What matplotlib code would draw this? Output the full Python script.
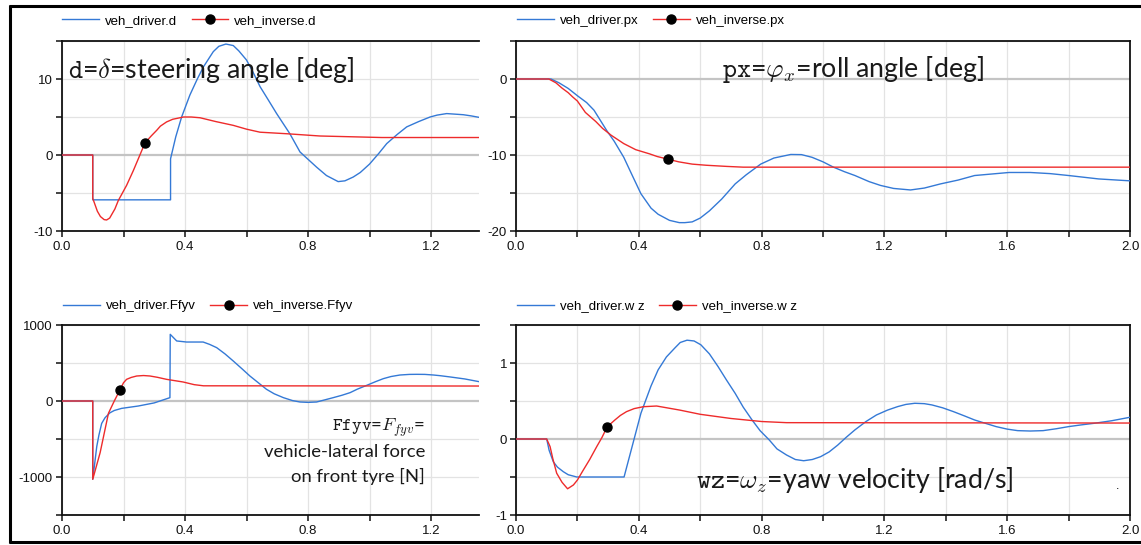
import matplotlib
matplotlib.use("Agg")
import matplotlib.pyplot as plt
from matplotlib.lines import Line2D

# ---------------- data ----------------
xticks_left = [0.0, 0.2, 0.4, 0.6, 0.8, 1.0, 1.2]
xticks_right = [0.0, 0.2, 0.4, 0.6, 0.8, 1.0, 1.2, 1.4, 1.6, 1.8, 2.0]

# steering angle d [deg]
t_d_drv = [0, 0.1, 0.1, 0.353, 0.353, 0.37, 0.389, 0.416, 0.44, 0.46, 0.492, 0.51, 0.533, 0.557,
           0.575, 0.6, 0.62, 0.644, 0.67, 0.698, 0.741, 0.774, 0.828, 0.86, 0.898, 0.92, 0.947,
           0.97, 1.0, 1.03, 1.056, 1.09, 1.121, 1.16, 1.197, 1.22, 1.251, 1.305, 1.33, 1.357]
d_drv = [0, 0, -5.9, -5.9, -0.5, 2.4, 5.0, 7.9, 10.0, 11.6, 13.6, 14.3, 14.6, 14.4,
         13.7, 12.5, 11.0, 9.0, 7.3, 5.45, 2.8, 0.4, -1.6, -2.7, -3.5, -3.4, -2.9,
         -2.3, -1.2, 0.2, 1.5, 2.7, 3.7, 4.4, 5.0, 5.25, 5.45, 5.3, 5.15, 4.95]
t_d_inv = [0, 0.1, 0.1, 0.115, 0.125, 0.137, 0.145, 0.155, 0.172, 0.183, 0.21, 0.232, 0.27,
           0.29, 0.308, 0.32, 0.34, 0.36, 0.395, 0.42, 0.449, 0.5, 0.557, 0.6, 0.644, 0.73,
           0.839, 1.04, 1.357]
d_inv = [0, 0, -5.7, -7.4, -8.1, -8.5, -8.55, -8.3, -7.1, -6.0, -4.0, -2.05, 1.6,
         2.5, 3.25, 3.8, 4.35, 4.7, 5.0, 5.0, 4.9, 4.4, 3.9, 3.4, 3.0, 2.8,
         2.5, 2.3, 2.3]
d_marker = 12

# roll angle px [deg]
t_px_drv = [0, 0.114, 0.14, 0.17, 0.2, 0.23, 0.254, 0.295, 0.32, 0.351, 0.38, 0.407, 0.44,
            0.463, 0.5, 0.532, 0.55, 0.574, 0.6, 0.63, 0.67, 0.714, 0.75, 0.797, 0.84, 0.895,
            0.93, 0.964, 1.0, 1.034, 1.07, 1.104, 1.15, 1.187, 1.23, 1.285, 1.33, 1.383, 1.44,
            1.494, 1.55, 1.606, 1.675, 1.74, 1.80, 1.898, 2.0]
px_drv = [0, 0, -0.5, -1.24, -2.2, -3.1, -4.1, -6.75, -8.2, -10.3, -12.8, -15.1, -17.0,
          -17.8, -18.6, -18.9, -18.9, -18.8, -18.3, -17.35, -15.8, -13.8, -12.6, -11.2, -10.4,
          -9.93, -9.95, -10.3, -10.9, -11.6, -12.2, -12.7, -13.5, -14.0, -14.4, -14.6, -14.35,
          -13.8, -13.3, -12.7, -12.5, -12.3, -12.3, -12.45, -12.7, -13.15, -13.4]
t_px_inv = [0, 0.107, 0.13, 0.15, 0.17, 0.184, 0.2, 0.226, 0.26, 0.282, 0.31, 0.351, 0.39,
            0.435, 0.46, 0.495, 0.53, 0.574, 0.62, 0.686, 0.74, 2.0]
px_inv = [0, 0, -0.5, -1.2, -1.8, -2.34, -2.9, -4.4, -5.6, -6.5, -7.4, -8.5, -9.3,
          -9.85, -10.2, -10.55, -10.9, -11.2, -11.35, -11.5, -11.6, -11.6]
px_marker = 15

# vehicle-lateral front tyre force Ffyv [N]
t_f_drv = [0, 0.1, 0.1, 0.107, 0.113, 0.12, 0.129, 0.14, 0.156, 0.17, 0.194, 0.248, 0.3, 0.351,
           0.352, 0.373, 0.405, 0.44, 0.459, 0.48, 0.503, 0.53, 0.557, 0.585, 0.611, 0.64,
           0.665, 0.69, 0.72, 0.75, 0.774, 0.8, 0.828, 0.85, 0.882, 0.91, 0.937, 0.96, 0.991,
           1.02, 1.045, 1.07, 1.099, 1.13, 1.154, 1.18, 1.208, 1.23, 1.263, 1.31, 1.357]
f_drv = [0, 0, -1030, -800, -600, -450, -295, -220, -155, -125, -97, -66, -25, 44,
         877, 790, 776, 776, 776, 745, 702, 620, 526, 425, 329, 235,
         154, 95, 44, 5, -13, -18, -13, 10, 44, 75, 110, 155, 206,
         255, 294, 322, 342, 350, 351, 350, 342, 333, 316, 290, 254]
t_f_inv = [0, 0.1, 0.1, 0.124, 0.151, 0.17, 0.189, 0.2, 0.21, 0.225, 0.243, 0.265, 0.286, 0.31,
           0.34, 0.394, 0.43, 0.46, 1.357]
f_inv = [0, 0, -1030, -680, -162, 0, 150, 240, 285, 310, 329, 335, 329, 312,
         285, 250, 215, 200, 197]
f_marker = 6

# yaw velocity wz [rad/s]
t_w_drv = [0, 0.1, 0.108, 0.1216, 0.135, 0.154, 0.17, 0.198, 0.352, 0.407, 0.44, 0.463, 0.49,
           0.518, 0.535, 0.557, 0.58, 0.602, 0.63, 0.658, 0.685, 0.714, 0.74, 0.769, 0.795,
           0.825, 0.85, 0.881, 0.91, 0.937, 0.965, 0.992, 1.02, 1.048, 1.075, 1.104, 1.14,
           1.174, 1.21, 1.243, 1.27, 1.299, 1.33, 1.355, 1.39, 1.425, 1.46, 1.494, 1.53, 1.564,
           1.6, 1.634, 1.675, 1.717, 1.76, 1.80, 1.84, 1.884, 1.94, 2.0]
w_drv = [0, 0, -0.15, -0.30, -0.37, -0.43, -0.47, -0.5, -0.5, 0.34, 0.70, 0.91, 1.08,
         1.2, 1.27, 1.30, 1.29, 1.24, 1.12, 0.954, 0.78, 0.60, 0.42, 0.25, 0.11,
         -0.013, -0.13, -0.21, -0.27, -0.286, -0.27, -0.233, -0.17, -0.08, 0.02, 0.12, 0.23,
         0.316, 0.38, 0.426, 0.455, 0.47, 0.465, 0.448, 0.41, 0.36, 0.305, 0.25, 0.205, 0.163,
         0.13, 0.11, 0.105, 0.11, 0.135, 0.163, 0.185, 0.207, 0.24, 0.286]
t_w_inv = [0, 0.1, 0.111, 0.12, 0.1325, 0.15, 0.168, 0.187, 0.2, 0.219, 0.24, 0.263, 0.28,
           0.297, 0.322, 0.34, 0.36, 0.385, 0.415, 0.458, 0.534, 0.6, 0.7, 0.8, 0.881, 2.0]
w_inv = [0, 0, -0.1, -0.26, -0.45, -0.57, -0.655, -0.605, -0.54, -0.41, -0.27, -0.1, 0.02,
         0.16, 0.25, 0.31, 0.36, 0.4, 0.425, 0.434, 0.38, 0.325, 0.27, 0.23, 0.215, 0.21]
w_marker = 13

# ---------------- style ----------------
W, H = 1141, 545
BLUE = "#3479d6"
RED = "#ee2b2b"
plt.rcParams["font.family"] = ["Liberation Sans", "DejaVu Sans"]

fig = plt.figure(figsize=(W / 100, H / 100), dpi=100)


def px_rect(l, r, t, b):
    return [l / W, 1 - b / H, (r - l) / W, (b - t) / H]


def style_axes(ax, xlim, xticks, xlab_every, ylim, ystep, ylab_every, right_spine=True):
    ax.set_xlim(*xlim)
    ax.set_ylim(*ylim)
    ax.set_xticks(xticks)
    ax.set_xticklabels([f"{v:.1f}" if i % xlab_every == 0 else "" for i, v in enumerate(xticks)])
    n = int(round((ylim[1] - ylim[0]) / ystep))
    yt = [ylim[0] + i * ystep for i in range(n + 1)]
    ax.set_yticks(yt)
    labs = []
    for v in yt:
        if abs(round(v / ylab_every) * ylab_every - v) < 1e-9:
            labs.append(f"{v:g}")
        else:
            labs.append("")
    ax.set_yticklabels(labs)
    for g in xticks:
        ax.axvline(g, color="#e3e3e3", lw=0.9, zorder=0)
    for g in yt:
        if abs(g) < 1e-9:
            ax.axhline(0, color="#c4c4c4", lw=1.6, zorder=0.5)
        else:
            ax.axhline(g, color="#e3e3e3", lw=0.9, zorder=0)
    for s in ["left", "bottom", "top", "right"]:
        ax.spines[s].set_linewidth(1.3)
        ax.spines[s].set_color("#111111")
    ax.spines["right"].set_visible(right_spine)
    ax.tick_params(direction="out", length=4.5, width=1.1, labelsize=9.5, pad=2,
                   colors="#111111")
    ax.tick_params(axis="x", pad=3)


def add_legend(ax, lab1, lab2, x, y):
    h1 = Line2D([], [], color=BLUE, lw=1.0)
    h2 = Line2D([], [], color=RED, lw=1.0, marker="o", markersize=6.5,
                markerfacecolor="black", markeredgecolor="black")
    ax.legend([h1, h2], [lab1, lab2], loc="center left",
              bbox_to_anchor=(x / W, 1 - y / H), bbox_transform=fig.transFigure,
              ncol=2, frameon=False, fontsize=9.5, handlelength=2.8, handletextpad=0.45,
              columnspacing=1.1, borderpad=0, borderaxespad=0, numpoints=1)


def plot_pair(ax, t1, v1, t2, v2, mk):
    ax.plot(t1, v1, color=BLUE, lw=1.0, zorder=3)
    ax.plot(t2, v2, color=RED, lw=1.0, zorder=4, marker="o", markevery=[mk],
            markersize=6.5, markerfacecolor="black", markeredgecolor="black")


# axes
ax1 = fig.add_axes(px_rect(62, 479, 41, 231))
ax2 = fig.add_axes(px_rect(516, 1130, 41, 231))
ax3 = fig.add_axes(px_rect(62, 479, 325, 515))
ax4 = fig.add_axes(px_rect(516, 1130, 325, 515))

xmax_left = (479 - 62) / 307.5

style_axes(ax1, (0, xmax_left), xticks_left, 2, (-10, 15), 5, 10, right_spine=False)
style_axes(ax2, (0, 2.0), xticks_right, 2, (-20, 5), 5, 10)
style_axes(ax3, (0, xmax_left), xticks_left, 2, (-1500, 1000), 500, 1000, right_spine=False)
style_axes(ax4, (0, 2.0), xticks_right, 2, (-1, 1.5), 0.5, 1)

plot_pair(ax1, t_d_drv, d_drv, t_d_inv, d_inv, d_marker)
plot_pair(ax2, t_px_drv, px_drv, t_px_inv, px_inv, px_marker)
plot_pair(ax3, t_f_drv, f_drv, t_f_inv, f_inv, f_marker)
plot_pair(ax4, t_w_drv, w_drv, t_w_inv, w_inv, w_marker)

add_legend(ax1, "veh_driver.d", "veh_inverse.d", 62, 21)
add_legend(ax2, "veh_driver.px", "veh_inverse.px", 517, 21)
add_legend(ax3, "veh_driver.Ffyv", "veh_inverse.Ffyv", 63, 306)
add_legend(ax4, "veh_driver.w z", "veh_inverse.w z", 517, 306)

# annotations
TXT = "#1a1a1a"
afam = ["Lato", "DejaVu Sans"]
BIG = 19.3
fig.text(68 / W, 1 - 78 / H, r"$\mathtt{d}$=$\delta$=steering angle [deg]", fontsize=BIG,
         family=afam, math_fontfamily="cm", color=TXT, va="baseline", ha="left")
fig.text(722 / W, 1 - 77 / H, r"$\mathtt{px}$=$\varphi_x$=roll angle [deg]", fontsize=BIG,
         family=afam, math_fontfamily="cm", color=TXT, va="baseline", ha="left")
fig.text(425 / W, 1 - 431 / H, r"$\mathtt{Ffyv}$=$F_{fyv}$=", fontsize=13.3,
         family=afam, math_fontfamily="cm", color=TXT, va="baseline", ha="right")
fig.text(425 / W, 1 - 457 / H, "vehicle-lateral force", fontsize=13.3,
         family=afam, color=TXT, va="baseline", ha="right")
fig.text(425 / W, 1 - 482 / H, "on front tyre [N]", fontsize=13.3,
         family=afam, color=TXT, va="baseline", ha="right")
fig.text(696 / W, 1 - 488 / H, r"$\mathtt{wz}$=$\omega_z$=yaw velocity [rad/s]", fontsize=BIG,
         family=afam, math_fontfamily="cm", color=TXT, va="baseline", ha="left")
fig.text(1118 / W, 1 - 489 / H, ".", fontsize=9, color="black", va="baseline", ha="center")

# outer frame (left, top, bottom)
frame_kw = dict(color="black", lw=2.2, transform=fig.transFigure, solid_capstyle="butt")
fig.add_artist(Line2D([9.5 / W, 9.5 / W], [1 - 5 / H, 1 - 543 / H], **frame_kw))
fig.add_artist(Line2D([8.5 / W, 1.0], [1 - 6 / H, 1 - 6 / H], **frame_kw))
fig.add_artist(Line2D([8.5 / W, 1.0], [1 - 542 / H, 1 - 542 / H], **frame_kw))

fig.savefig("out.png", dpi=100)
